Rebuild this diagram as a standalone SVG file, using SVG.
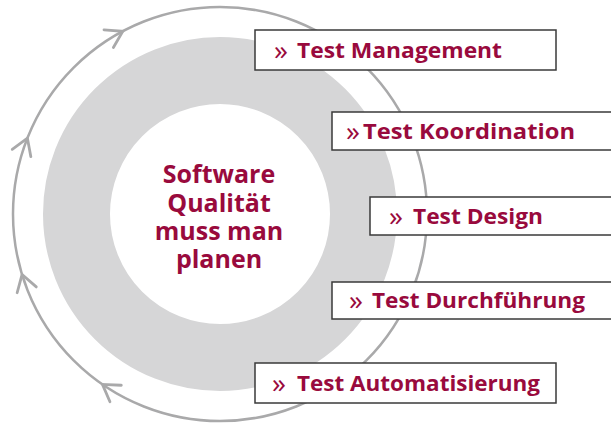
<svg xmlns="http://www.w3.org/2000/svg" width="611" height="423" viewBox="0 0 611 423">
<style>
.ring{fill:none;stroke:#a9a9aa;stroke-width:2.5}
.chev{fill:none;stroke:#a9a9aa;stroke-width:2.8;stroke-linecap:round;stroke-linejoin:miter}
.box{fill:#ffffff;stroke:#3a3a3a;stroke-width:1.5}
.lbl{font-family:"Open Sans","Liberation Sans",sans-serif;font-weight:700;font-size:21.5px;fill:#990a3d}
.raq{font-family:"Open Sans","Liberation Sans",sans-serif;font-weight:400;font-size:28px;fill:#990a3d}
.ctr{font-family:"Open Sans","Liberation Sans",sans-serif;font-weight:700;font-size:25px;fill:#990a3d;text-anchor:middle}
</style>
<defs>
<path id="chv" d="M -10 -16 L 0 0 L 10 -16"/>
</defs>
<rect width="611" height="423" fill="#ffffff"/>
<g id="core">
<circle cx="220" cy="214" r="143.5" fill="none" stroke="#d6d6d7" stroke-width="67"/>
<text class="ctr" x="219" y="183">Software</text>
<text class="ctr" x="219" y="212">Qualität</text>
<text class="ctr" x="219" y="240">muss man</text>
<text class="ctr" x="219" y="268">planen</text>
</g>
<g id="connectors">
<circle class="ring" cx="220" cy="214" r="207"/>
<use href="#chv" class="chev" transform="translate(220 214) rotate(-118) translate(207 0)"/>
<use href="#chv" class="chev" transform="translate(220 214) rotate(-158.5) translate(207 0)"/>
<use href="#chv" class="chev" transform="translate(220 214) rotate(163) translate(207 0)"/>
<use href="#chv" class="chev" transform="translate(220 214) rotate(124.6) translate(207 0)"/>
</g>
<g id="n1">
<rect class="box" x="255" y="30" width="301" height="40"/>
<text class="raq" x="274" y="59.5">»</text>
<text class="lbl" x="297" y="57.5" textLength="205" lengthAdjust="spacingAndGlyphs">Test Management</text>
</g>
<g id="n2">
<rect class="box" x="332" y="112" width="290" height="38"/>
<text class="raq" x="346" y="140.5">»</text>
<text class="lbl" x="363" y="138.5" textLength="212" lengthAdjust="spacingAndGlyphs">Test Koordination</text>
</g>
<g id="n3">
<rect class="box" x="370" y="197" width="252" height="38"/>
<text class="raq" x="389" y="225.5">»</text>
<text class="lbl" x="413" y="223.5" textLength="130" lengthAdjust="spacingAndGlyphs">Test Design</text>
</g>
<g id="n4">
<rect class="box" x="332" y="282" width="290" height="37"/>
<text class="raq" x="349" y="310">»</text>
<text class="lbl" x="372" y="308" textLength="213" lengthAdjust="spacingAndGlyphs">Test Durchführung</text>
</g>
<g id="n5">
<rect class="box" x="255" y="363" width="301" height="40"/>
<text class="raq" x="272" y="392.5">»</text>
<text class="lbl" x="297" y="390.5" textLength="243" lengthAdjust="spacingAndGlyphs">Test Automatisierung</text>
</g>
</svg>
